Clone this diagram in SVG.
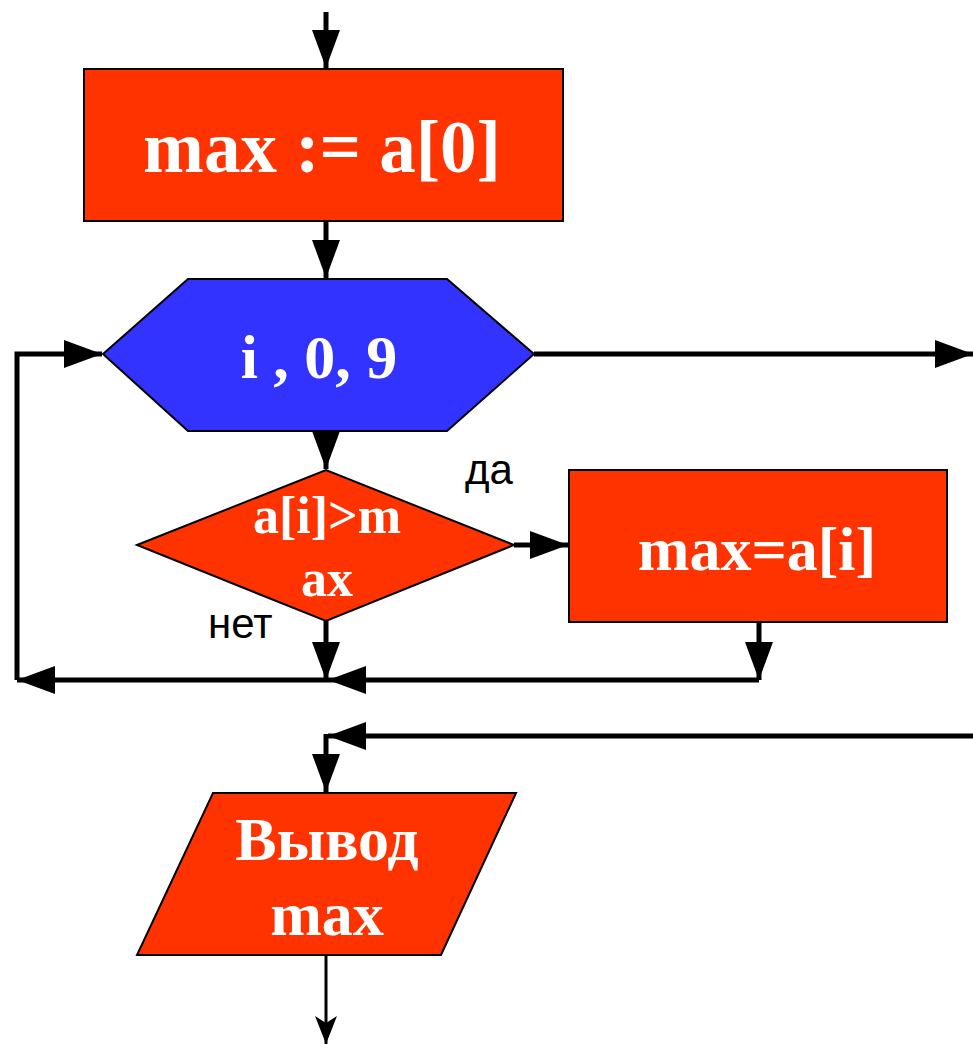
<svg xmlns="http://www.w3.org/2000/svg" width="973" height="1044" viewBox="0 0 973 1044">
<style>
.shape{stroke:#000;stroke-width:2}
.red{fill:#FF3300}
.blue{fill:#3333FF}
.t{font-family:"Liberation Serif","Times New Roman",serif;font-weight:bold;fill:#fff;text-anchor:middle}
.lbl{font-family:"Liberation Sans",Arial,sans-serif;fill:#000;font-size:42px}
.c{fill:none;stroke:#000;stroke-width:5}
.c2{fill:none;stroke:#000;stroke-width:3}
</style>
<defs>
<marker id="arr" markerUnits="userSpaceOnUse" markerWidth="40" markerHeight="30" refX="38" refY="14" orient="auto" viewBox="0 0 40 30">
<path d="M0,0 L38,14 L0,28 Z" fill="#000"/>
</marker>
<marker id="st" markerUnits="userSpaceOnUse" markerWidth="30" markerHeight="24" refX="28" refY="11" orient="auto" viewBox="0 0 30 24">
<path d="M0,0 L28,11 L0,22 L7,11 Z" fill="#000"/>
</marker>
</defs>
<rect width="973" height="1044" fill="#fff"/>
<g id="connectors">
<path class="c" d="M326,12 V68" marker-end="url(#arr)"/>
<path class="c" d="M326,221 V278" marker-end="url(#arr)"/>
<path class="c" d="M534,354 H973" marker-end="url(#arr)"/>
<path class="c" d="M326,431 V469" marker-end="url(#arr)"/>
<path class="c" d="M514,545 H568" marker-end="url(#arr)"/>
<path class="c" d="M326,621 V680" marker-end="url(#arr)"/>
<path class="c" d="M759,622 V680" marker-end="url(#arr)"/>
<path class="c" d="M759,680 H328" marker-end="url(#arr)"/>
<path class="c" d="M328,680 H17" marker-end="url(#arr)"/>
<path class="c" d="M17,680 V354 H102" marker-end="url(#arr)"/>
<path class="c" d="M973,736 H328" marker-end="url(#arr)"/>
<path class="c" d="M326,734 V792" marker-end="url(#arr)"/>
<path class="c2" d="M326,955 V1044" marker-end="url(#st)"/>
</g>
<g id="init">
<rect class="shape red" x="84" y="69" width="479" height="152"/>
<text class="t" x="322" y="172" font-size="73">max := a[0]</text>
</g>
<g id="loop">
<polygon class="shape blue" points="103,354 188,279 447,279 534,354 447,431 188,431"/>
<text class="t" x="319" y="378" font-size="62">i , 0, 9</text>
</g>
<g id="cond">
<polygon class="shape red" points="137,545 326,470 514,545 326,621"/>
<text class="t" x="327" y="533" font-size="52">a[i]&gt;m</text>
<text class="t" x="327" y="596" font-size="52">ax</text>
</g>
<g id="assign">
<rect class="shape red" x="569" y="470" width="378" height="152"/>
<text class="t" x="757" y="570" font-size="62">max=a[i]</text>
</g>
<g id="output">
<polygon class="shape red" points="213,793 516,793 441,955 137,955"/>
<text class="t" x="327" y="860" font-size="62">Вывод</text>
<text class="t" x="327" y="935" font-size="62">max</text>
</g>
<g id="labels">
<text class="lbl" x="465" y="484">да</text>
<text class="lbl" x="208" y="638">нет</text>
</g>
</svg>
